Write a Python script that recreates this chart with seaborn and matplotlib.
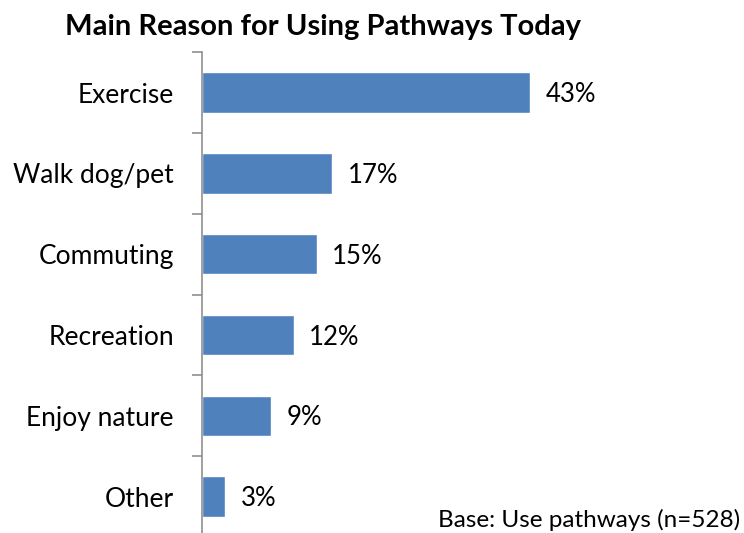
import matplotlib
matplotlib.use("Agg")
import matplotlib.pyplot as plt
import numpy as np
import pandas as pd
import seaborn as sns

# Survey results
reasons = ["Exercise", "Walk dog/pet", "Commuting", "Recreation", "Enjoy nature", "Other"]
shares = [43, 17, 15, 12, 9, 3]
value_labels = ["43%", "17%", "15%", "12%", "9%", "3%"]
title = "Main Reason for Using Pathways Today"
base_note = "Base: Use pathways (n=528)"

sns.set_style("white")
plt.rcParams["font.family"] = ["Lato", "DejaVu Sans"]

W, H = 744, 533
fig = plt.figure(figsize=(W / 100, H / 100), dpi=100)
ax = fig.add_axes([202.4 / W, 1 - 537.1 / H, 381.5 / W, (537.1 - 52.1) / H])

df = pd.DataFrame({"reason": reasons, "share": shares})
sns.barplot(data=df, x="share", y="reason", orient="h", color="#4F81BD",
            saturation=1, width=0.5, ax=ax)

ax.set_xlim(0, 50)
ax.set_ylim(len(reasons) - 0.5, -0.5)
ax.set_xlabel("")
ax.set_ylabel("")
ax.set_xticks([])

for s in ["top", "right", "bottom"]:
    ax.spines[s].set_visible(False)
ax.spines["left"].set_color("#868686")
ax.spines["left"].set_linewidth(1.1)

# boundary ticks between categories
ax.set_yticks(np.arange(-0.5, len(reasons)), minor=True)
ax.tick_params(axis="y", which="minor", length=7.2, width=1.1, color="#868686", left=True)
ax.tick_params(axis="y", which="major", length=0, pad=20.5, labelsize=19, labelcolor="black")

for i, (v, lab) in enumerate(zip(shares, value_labels)):
    ax.annotate(lab, xy=(v, i), xytext=(11, -1.5), textcoords="offset points",
                ha="left", va="center", fontsize=18.5, color="black")

fig.text(323 / W, 1 - 27 / H, title, ha="center", va="center",
         fontsize=21, fontweight="bold", color="black")
fig.text(740 / W, 1 - 520 / H, base_note, ha="right", va="center",
         fontsize=17.5, color="black")

fig.savefig("out.png", dpi=100)
